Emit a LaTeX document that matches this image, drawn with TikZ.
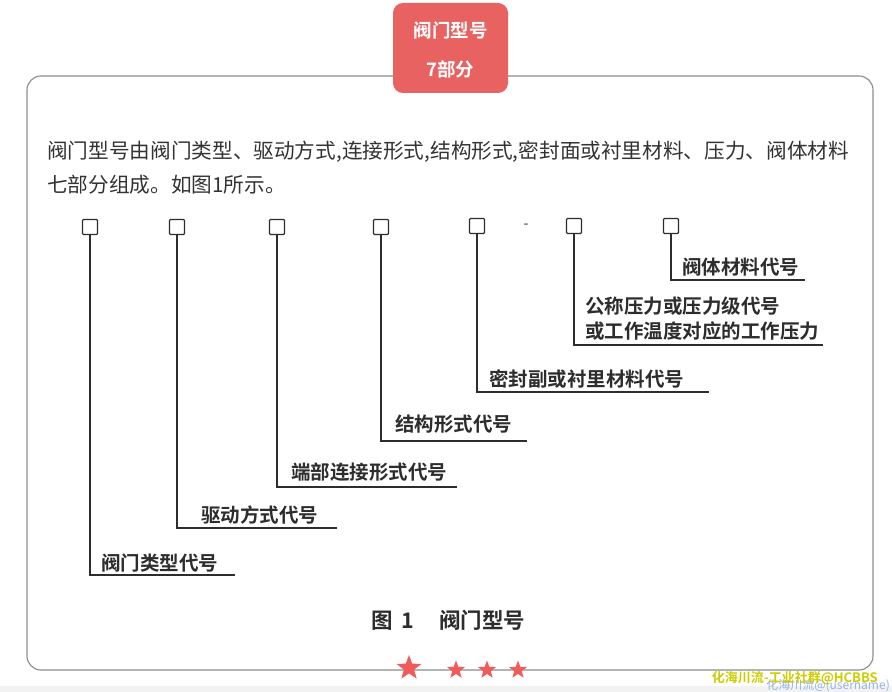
\documentclass[tikz,border=0pt]{standalone}
\usepackage{fontspec}
\setmainfont{Noto Sans CJK SC}
\newfontfamily\cjkb{Noto Sans CJK SC Bold}
\usetikzlibrary{shapes.geometric}
\definecolor{badge}{RGB}{232,98,98}
\definecolor{framec}{RGB}{140,140,140}
\definecolor{inkc}{RGB}{45,45,45}
\definecolor{bodyc}{RGB}{51,51,51}
\definecolor{starc}{RGB}{240,92,92}
\definecolor{wmy}{RGB}{205,205,0}
\definecolor{wmb}{RGB}{150,180,230}
\tikzset{
  codebox/.style={draw=inkc,line width=1.4pt,rounded corners=1pt,minimum size=15pt,inner sep=0pt},
  lead/.style={draw=inkc,line width=1.4pt},
  lbl/.style={anchor=base west,inner sep=0pt,font=\cjkb\fontsize{19.5}{23}\selectfont,text=inkc},
  bodytxt/.style={anchor=base west,inner sep=0pt,font=\fontsize{20.65}{24}\selectfont,text=bodyc},
  bigstar/.style={star,star points=5,star point ratio=2.4,fill=starc,inner sep=0pt,minimum size=#1},
}
\begin{document}
\begin{tikzpicture}[x=1pt,y=-1pt]
\useasboundingbox (0,0) rectangle (892,692);
\fill[white] (0,0) rectangle (892,692);
\fill[black!5] (0,686) rectangle (892,692);
% frame
\draw[framec,line width=1.1pt,rounded corners=14pt] (27,76) rectangle (873,670);
% badge
\node[fill=badge,rounded corners=10pt,minimum width=115pt,minimum height=90pt,inner sep=0pt] (badge) at (450.5,48) {};
\node[text=white,font=\cjkb\fontsize{18.5}{22}\selectfont,inner sep=0pt] (b1) at (450.5,30) {阀门型号};
\node[text=white,font=\cjkb\fontsize{18.5}{22}\selectfont,inner sep=0pt] (b2) at (450.5,69) {7部分};
% body text
\node[bodytxt] (t1) at (47,159) {阀门型号由阀门类型、驱动方式,连接形式,结构形式,密封面或衬里材料、压力、阀体材料};
\node[bodytxt] (t2) at (47,193) {七部分组成。如图1所示。};
% boxes
\node[codebox] (s1) at (90,227) {};
\node[codebox] (s2) at (177,227) {};
\node[codebox] (s3) at (277,227) {};
\node[codebox] (s4) at (381,227) {};
\node[codebox] (s5) at (477,226) {};
\node[font=\fontsize{14}{14}\selectfont,text=inkc,inner sep=0pt] (dash) at (526,226) {-};
\node[codebox] (s6) at (574,226) {};
\node[codebox] (s7) at (671,226) {};
% leader end points
\coordinate (c1) at (90,575); \coordinate (e1) at (235,575);
\coordinate (c2) at (177,528); \coordinate (e2) at (337,528);
\coordinate (c3) at (277,487); \coordinate (e3) at (457,487);
\coordinate (c4) at (381,441); \coordinate (e4) at (527,441);
\coordinate (c5) at (477,392); \coordinate (e5) at (709,392);
\coordinate (c6) at (574,345); \coordinate (e6) at (823,345);
\coordinate (c7) at (671,280); \coordinate (e7) at (805,280);
\draw[lead] (s1.south) -- (c1) -- (e1);
\draw[lead] (s2.south) -- (c2) -- (e2);
\draw[lead] (s3.south) -- (c3) -- (e3);
\draw[lead] (s4.south) -- (c4) -- (e4);
\draw[lead] (s5.south) -- (c5) -- (e5);
\draw[lead] (s6.south) -- (c6) -- (e6);
\draw[lead] (s7.south) -- (c7) -- (e7);
% labels
\node[lbl] (l1) at (101,570) {阀门类型代号};
\node[lbl] (l2) at (201,522) {驱动方式代号};
\node[lbl] (l3) at (291,479) {端部连接形式代号};
\node[lbl] (l4) at (395,432) {结构形式代号};
\node[lbl] (l5) at (489,387) {密封副或衬里材料代号};
\node[lbl] (l6a) at (585,314) {公称压力或压力级代号};
\node[lbl] (l6b) at (585,339) {或工作温度对应的工作压力};
\node[lbl] (l7) at (682,275) {阀体材料代号};
% caption
\node[anchor=base west,inner sep=0pt,font=\cjkb\fontsize{21.5}{24}\selectfont,text=inkc] (cap) at (371,628) {图\hspace{9pt}1\hspace{25pt}阀门型号};
% stars
\node[bigstar=26pt] (st1) at (409,668) {};
\node[bigstar=19pt] (st2) at (456,670) {};
\node[bigstar=19pt] (st3) at (487,670) {};
\node[bigstar=19pt] (st4) at (518,670) {};
% watermark
\node[anchor=base east,inner sep=0pt,font=\fontsize{12}{12}\selectfont,text=wmb] (wm2) at (890,689) {化海川流@(username)};
\node[anchor=base east,inner sep=0pt,font=\cjkb\fontsize{13}{13}\selectfont,text=wmy] (wm1) at (878,682) {化海川流-工业社群@HCBBS};
\end{tikzpicture}
\end{document}
